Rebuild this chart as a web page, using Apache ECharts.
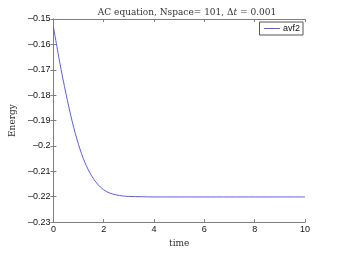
<!DOCTYPE html>
<html>
<head>
<meta charset="utf-8">
<script src="https://cdn.jsdelivr.net/npm/echarts@6/dist/echarts.min.js"></script>
<style>
html,body{margin:0;padding:0;background:#fff;}
#c{width:337px;height:253px;}
</style>
</head>
<body>
<div id="c"></div>
<script>
var times = [0, 0.25, 0.5, 0.75, 1.0, 1.25, 1.5, 1.75, 2.0, 2.25, 2.5, 2.75, 3.0, 3.5, 4, 5, 6, 7, 8, 9, 10];
var energy = [-0.1531, -0.1670, -0.1795, -0.1905, -0.1995, -0.2065, -0.2115, -0.2150, -0.2173, -0.2186, -0.2193, -0.2197, -0.2199, -0.2200, -0.2201, -0.2201, -0.2201, -0.2201, -0.2201, -0.2201, -0.2201];
var seriesName = 'avf2';
var xTicks = [0, 2, 4, 6, 8, 10];
var yTicks = [-0.23, -0.22, -0.21, -0.20, -0.19, -0.18, -0.17, -0.16, -0.15];

var data = times.map(function (t, i) { return [t, energy[i]]; });
var chart = echarts.init(document.getElementById('c'), null, {renderer: 'canvas'});
var axisCol = '#7f7f7f';
function yfmt(v) {
  var s = (Math.round(v * 100) / 100).toString();
  return s.replace('-', '\u2013');
}
chart.setOption({
  animation: false,
  backgroundColor: '#fff',
  title: {
    text: '{n|AC equation, Nspace= 101, \u0394}{i|t}{n| = 0.001}',
    left: 182, top: 3, textAlign: 'center',
    textStyle: {
      fontWeight: 'normal',
      rich: {
        n: {fontFamily: 'DejaVu Serif', fontSize: 9, fontWeight: 'normal', color: '#333'},
        i: {fontFamily: 'DejaVu Serif', fontSize: 9, fontWeight: 'normal', fontStyle: 'italic', color: '#333'}
      }
    }
  },
  legend: {
    right: 34, top: 22,
    itemWidth: 16, itemHeight: 2, itemGap: 4,
    padding: [2, 3, 2, 4],
    borderColor: '#555', borderWidth: 1, backgroundColor: '#fff',
    lineStyle: {width: 1},
    textStyle: {fontFamily: 'Liberation Sans', fontSize: 9, color: '#111', padding: [0, 0, 0, -2]},
    data: [seriesName]
  },
  grid: {left: 43, right: 32, top: 19, bottom: 28, containLabel: false},
  xAxis: [{
    type: 'value', min: 0, max: 10, interval: 2,
    name: 'time', nameLocation: 'middle', nameGap: 15,
    nameTextStyle: {fontFamily: 'DejaVu Serif', fontSize: 9, color: '#333'},
    axisLine: {show: true, lineStyle: {color: axisCol, width: 1}},
    axisTick: {show: true, inside: true, length: 3, lineStyle: {color: axisCol}},
    axisLabel: {fontFamily: 'Liberation Sans', fontSize: 9, color: '#111', margin: 3,
      formatter: function (v) { return xTicks.indexOf(v) >= 0 ? String(v) : ''; }},
    splitLine: {show: false}
  }, {
    type: 'value', min: 0, max: 10, interval: 2, position: 'top',
    axisLine: {show: true, lineStyle: {color: axisCol, width: 1}},
    axisTick: {show: true, inside: true, length: 3, lineStyle: {color: axisCol}},
    axisLabel: {show: false}, splitLine: {show: false}
  }],
  yAxis: [{
    type: 'value', min: -0.23, max: -0.15, interval: 0.01,
    name: 'Energy', nameLocation: 'middle', nameGap: 30, nameRotate: 90,
    nameTextStyle: {fontFamily: 'DejaVu Serif', fontSize: 9, color: '#333'},
    axisLine: {show: true, lineStyle: {color: axisCol, width: 1}},
    axisTick: {show: true, inside: true, length: 3, lineStyle: {color: axisCol}},
    axisLabel: {fontFamily: 'Liberation Sans', fontSize: 9, color: '#111', margin: 3, formatter: yfmt},
    splitLine: {show: false}
  }, {
    type: 'value', min: -0.23, max: -0.15, interval: 0.01, position: 'right',
    axisLine: {show: true, lineStyle: {color: axisCol, width: 1}},
    axisTick: {show: true, inside: true, length: 3, lineStyle: {color: axisCol}},
    axisLabel: {show: false}, splitLine: {show: false}
  }],
  series: [{
    name: seriesName, type: 'line', data: data, smooth: 0.3,
    symbol: 'none', xAxisIndex: 0, yAxisIndex: 0,
    lineStyle: {color: '#5a5aff', width: 1},
    itemStyle: {color: '#5a5aff'}
  }]
});
</script>
</body>
</html>
